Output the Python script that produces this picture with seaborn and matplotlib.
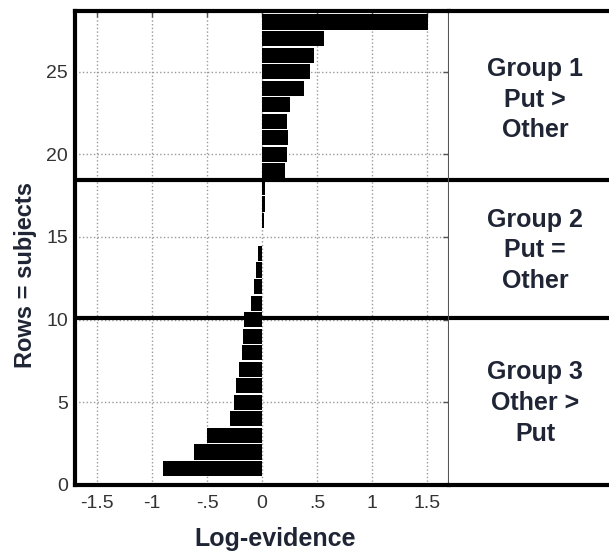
import matplotlib.pyplot as plt
import seaborn as sns

# one bar per subject, bottom row = subject 1
rows = list(range(1, 29))
evidence = [-0.90, -0.62, -0.50, -0.29, -0.26, -0.24, -0.21, -0.185, -0.17, -0.165,
            -0.105, -0.07, -0.06, -0.04, -0.005, 0.015, 0.025, 0.03,
            0.21, 0.225, 0.235, 0.23, 0.255, 0.38, 0.43, 0.47, 0.56, 1.51]

x_ticks = [-1.5, -1, -0.5, 0, 0.5, 1, 1.5]
x_tick_labels = ['-1.5', '-1', '-.5', '0', '.5', '1', '1.5']
y_ticks = [0, 5, 10, 15, 20, 25]

group_bounds = [18.45, 10.1]
group_labels = ['Group 1\nPut >\nOther', 'Group 2\nPut =\nOther', 'Group 3\nOther >\nPut']
group_centers = [23.3, 14.2, 4.95]

sns.set_style('white')
plt.rcParams['font.family'] = ['Liberation Sans', 'DejaVu Sans']

text_col = '#1f2535'
y_max = 28.67

fig = plt.figure(figsize=(6.09, 5.52), dpi=100)
ax = fig.add_axes([0.1232, 0.1214, 0.6146, 0.8587])
ax2 = fig.add_axes([0.7378, 0.1214, 0.2622, 0.8587])

ax.set_axisbelow(True)
ax.grid(True, linestyle=':', color='#999999', linewidth=1)
sns.barplot(x=evidence, y=rows, orient='h', native_scale=True, color='black',
            width=0.92, errorbar=None, linewidth=0, ax=ax)

ax.set_xlim(-1.7, 1.7)
ax.set_ylim(0, y_max)
ax.set_xticks(x_ticks)
ax.set_xticklabels(x_tick_labels)
ax.set_yticks(y_ticks)
ax.tick_params(direction='in', top=True, right=True, length=4, width=1,
               color='#555555', labelsize=14, labelcolor='#333333')
ax.tick_params(axis='x', pad=7)
ax.tick_params(axis='y', pad=5)

for side in ['left', 'bottom', 'top']:
    ax.spines[side].set_linewidth(3)
    ax.spines[side].set_color('black')
ax.spines['right'].set_linewidth(1.5)
ax.spines['right'].set_color('#555555')

ax.set_xlabel('Log-evidence', fontsize=18, weight='bold', color=text_col)
ax.xaxis.set_label_coords(0.534, -0.088)
ax.set_ylabel('Rows = subjects', fontsize=17, weight='bold', color=text_col)
ax.yaxis.set_label_coords(-0.1015, 0.443)

# right-hand panel with the group names
ax2.set_xlim(0, 1)
ax2.set_ylim(0, y_max)
ax2.set_xticks([])
ax2.set_yticks([])
for side in ['left', 'right']:
    ax2.spines[side].set_visible(False)
for side in ['top', 'bottom']:
    ax2.spines[side].set_linewidth(3)
    ax2.spines[side].set_color('black')

for b in group_bounds:
    ax.axhline(b, color='black', linewidth=3)
    ax2.axhline(b, color='black', linewidth=3)

for lab, yc in zip(group_labels, group_centers):
    ax2.text(0.537, yc, lab, ha='center', va='center', fontsize=18,
             weight='bold', color=text_col, linespacing=1.35)

plt.savefig('out.png', dpi=100)
